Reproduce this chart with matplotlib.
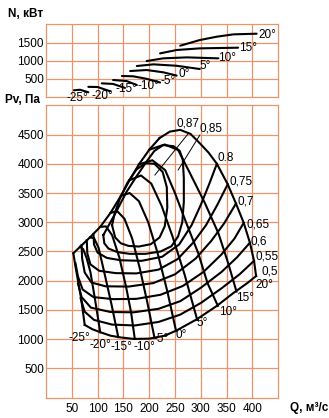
import matplotlib.pyplot as plt

plt.rcParams['font.family'] = ['Liberation Sans', 'DejaVu Sans']

# --- data ---
q_ticks = [50, 100, 150, 200, 250, 300, 350, 400]
n_ticks = [500, 1000, 1500]
p_ticks = [500, 1000, 1500, 2000, 2500, 3000, 3500, 4000, 4500]

angle_names = ["-25°", "-20°", "-15°", "-10°", "-5°", "0°", "5°", "10°", "15°", "20°"]

# power curves N(Q), one per blade angle (top panel)
power_q = [
    [54, 66, 82],
    [82, 100, 124],
    [108, 130, 153],
    [130, 156, 176],
    [147, 169, 195, 221],
    [163, 195, 227, 253],
    [176, 208, 253, 298],
    [195, 227, 273, 334],
    [221, 253, 298, 372],
    [260, 298, 331, 363, 408],
]
power_n = [
    [185, 200, 130],
    [280, 275, 160],
    [376, 360, 250],
    [468, 440, 330],
    [578, 570, 500, 400],
    [715, 743, 680, 590],
    [853, 899, 860, 770],
    [990, 1064, 1091, 1064],
    [1201, 1293, 1339, 1357],
    [1412, 1568, 1660, 1724, 1742],
]
power_lab_q = [40, 88, 135, 178, 221, 256, 297, 334, 373, 411]
power_lab_n = [-30, 40, 215, 290, 440, 640, 840, 1064, 1357, 1710]

# stall line (upper left boundary)
stall_q = [53, 66, 85, 105, 125, 145, 162, 180, 200, 220]
stall_p = [2470, 2580, 2740, 2920, 3160, 3450, 3720, 3990, 4240, 4440]

# pressure curves Pv(Q) for each blade angle
blade_q = [
    [53, 57, 62, 68, 75],
    [66, 72, 79, 86, 95, 105],
    [85, 93, 102, 114, 127, 140],
    [105, 116, 128, 142, 155, 165, 172],
    [125, 138, 152, 167, 182, 197, 210],
    [145, 162, 180, 198, 216, 235, 252],
    [162, 184, 204, 224, 245, 268, 293],
    [180, 206, 231, 250, 272, 295, 313, 333],
    [200, 230, 256, 279, 308, 334, 353, 369],
    [220, 240, 260, 280, 298, 315, 331, 352, 368, 383, 395, 403, 407],
]
blade_p = [
    [2470, 2250, 2000, 1700, 1245],
    [2580, 2540, 2380, 2150, 1680, 1120],
    [2740, 2730, 2560, 2100, 1590, 1035],
    [2920, 2930, 2780, 2400, 1900, 1450, 1005],
    [3160, 3190, 3060, 2720, 2200, 1600, 1030],
    [3450, 3500, 3360, 3000, 2480, 1820, 1140],
    [3720, 3800, 3660, 3280, 2760, 2120, 1330],
    [3990, 4060, 3890, 3495, 2982, 2469, 1956, 1570],
    [4240, 4330, 4235, 3837, 3324, 2811, 2298, 1815],
    [4440, 4550, 4580, 4510, 4350, 4190, 4000, 3650, 3320, 2990, 2650, 2340, 2080],
]
blade_lab_q = [43, 85, 124, 169, 209, 250, 292, 335, 369, 405]
blade_lab_p = [1016, 900, 862, 872, 998, 1072, 1272, 1471, 1700, 1927]

# efficiency contours
eff_names = ["0,87", "0,85", "0.8", "0,75", "0,7", "0,65", "0,6", "0,55", "0,5"]
eff_q = [
    [128, 134, 145, 160, 180, 203, 220, 230, 235, 234, 226, 210, 192, 175, 158, 143, 133, 128],
    [111, 113, 121, 138, 162, 193, 222, 243, 256, 264, 267, 267, 265, 259, 247, 227, 210, 195, 175, 156, 133, 111],
    [92, 93, 100, 118, 145, 185, 225, 258, 282, 300, 316, 331],
    [79, 80, 86, 103, 135, 175, 218, 255, 285, 310, 332, 352],
    [69, 70, 75, 88, 115, 160, 208, 250, 290, 320, 345, 368],
    [57, 62, 71, 92, 130, 175, 222, 265, 305, 340, 365, 383],
    [62, 69, 87, 125, 170, 218, 260, 300, 340, 370, 395],
    [67, 75, 93, 128, 172, 218, 260, 300, 340, 375, 403],
    [75, 90, 105, 125, 145, 170, 200, 230, 253, 292, 331, 363, 390, 407],
]
eff_p = [
    [2950, 2740, 2640, 2595, 2585, 2625, 2740, 2930, 3250, 3600, 3860, 4000, 4010, 3900, 3680, 3400, 3150, 2950],
    [2780, 2640, 2550, 2490, 2460, 2460, 2500, 2590, 2760, 3000, 3350, 3750, 4070, 4220, 4300, 4320, 4220, 4040, 3780, 3520, 3130, 2780],
    [2800, 2620, 2480, 2390, 2350, 2340, 2410, 2620, 2950, 3300, 3650, 4000],
    [2690, 2470, 2280, 2170, 2130, 2125, 2190, 2370, 2650, 2950, 3300, 3650],
    [2610, 2380, 2140, 1970, 1905, 1900, 1960, 2110, 2380, 2680, 2980, 3320],
    [2300, 2070, 1850, 1720, 1685, 1690, 1760, 1910, 2150, 2450, 2720, 2990],
    [1950, 1720, 1540, 1465, 1460, 1520, 1650, 1880, 2150, 2400, 2650],
    [1700, 1470, 1330, 1250, 1235, 1295, 1420, 1620, 1870, 2110, 2340],
    [1245, 1170, 1120, 1060, 1030, 1005, 1010, 1060, 1150, 1340, 1570, 1790, 1960, 2080],
]
eff_lab_q = [252, 298, 333, 355, 370, 389, 397, 405, 418]
eff_lab_p = [4690, 4607, 4100, 3694, 3352, 2970, 2668, 2411, 2155]
# leader lines for the two inner contours
lead_q = [[276, 211], [298, 256]]
lead_p = [[4521, 3808], [4490, 3894]]

grid_col = "#e8956a"
fs = 8.5

fig = plt.figure(figsize=(3.29, 4.18), dpi=100)
ax_n = fig.add_axes([0.1398, 0.7679, 0.7061, 0.1739])
ax_p = fig.add_axes([0.1398, 0.0486, 0.7061, 0.6995])

for ax in (ax_n, ax_p):
    ax.set_xlim(0, 450)
    ax.set_xticks(q_ticks)
    ax.grid(True, color=grid_col, lw=0.9)
    ax.set_axisbelow(True)
    for s in ax.spines.values():
        s.set_color(grid_col)
        s.set_linewidth(0.9)
    ax.tick_params(length=0, labelsize=fs, pad=1.5)

ax_n.set_ylim(0, 2000)
ax_n.set_yticks(n_ticks)
ax_n.set_xticklabels([])
ax_p.set_ylim(0, 5000)
ax_p.set_yticks(p_ticks)
ax_p.tick_params(axis='x', pad=4)

# top panel: power
for qs, ns, name, lq, ln in zip(power_q, power_n, angle_names, power_lab_q, power_lab_n):
    ax_n.plot(qs, ns, color='black', lw=1.5, solid_capstyle='round')
    ax_n.text(lq, ln, name, fontsize=fs, ha='left', va='center', clip_on=False)

# bottom panel: pressure map
ax_p.plot(stall_q, stall_p, color='black', lw=1.5)
for qs, ps in zip(blade_q, blade_p):
    ax_p.plot(qs, ps, color='black', lw=1.5)
for qs, ps in zip(eff_q, eff_p):
    ax_p.plot(qs, ps, color='black', lw=1.5)
for qs, ps in zip(lead_q, lead_p):
    ax_p.plot(qs, ps, color='black', lw=0.7)

for name, lq, lp in zip(angle_names, blade_lab_q, blade_lab_p):
    ax_p.text(lq, lp, name, fontsize=fs, ha='left', va='center')
for name, lq, lp in zip(eff_names, eff_lab_q, eff_lab_p):
    ax_p.text(lq, lp, name, fontsize=fs, ha='left', va='center', clip_on=False)

fig.text(0.025, 0.967, "N, кВт", fontsize=fs, fontweight='bold', va='center')
fig.text(0.015, 0.761, "Pv, Па", fontsize=fs, fontweight='bold', va='center')
fig.text(0.882, 0.024, "Q, м³/с", fontsize=fs, fontweight='bold', va='center')

fig.savefig("out.png", dpi=100)
